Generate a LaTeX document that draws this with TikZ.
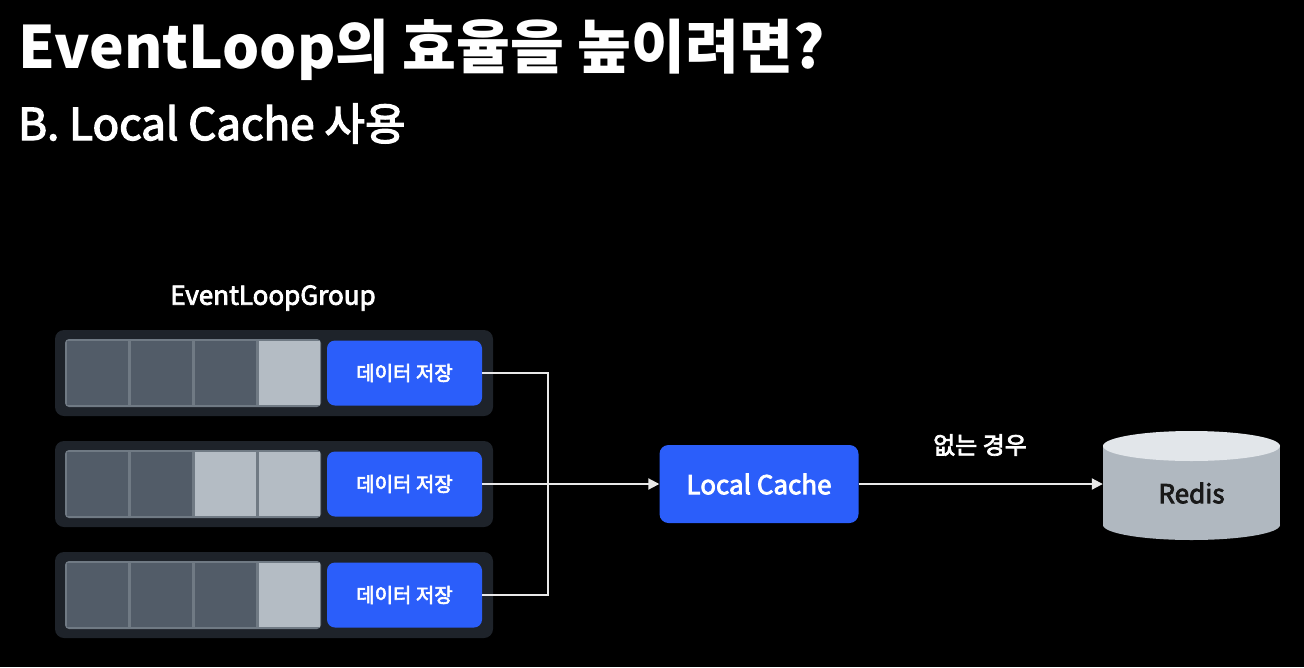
\documentclass[tikz,border=0pt]{standalone}
\usepackage{fontspec}
\setmainfont{Noto Sans CJK KR}
\newfontfamily\medfont{Noto Sans CJK KR}[FakeBold=3]
\usetikzlibrary{
    arrows.meta,
    calc,
    positioning
}
\definecolor{bluebox}{RGB}{43,94,250}
\definecolor{groupbg}{RGB}{30,35,42}
\definecolor{stripline}{RGB}{112,122,132}
\definecolor{celldark}{RGB}{82,92,104}
\definecolor{celllight}{RGB}{180,188,196}
\definecolor{dbside}{RGB}{176,184,192}
\definecolor{dbtop}{RGB}{226,230,234}
\definecolor{wire}{RGB}{232,232,232}
\tikzset{
  every node/.style={
    text=white,
    inner sep=0pt
  },
  grouprow/.style={
    fill=groupbg,
    rounded corners=9pt,
    minimum width=438pt,
    minimum height=86pt
  },
  savebox/.style={
    fill=bluebox,
    rounded corners=8pt,
    minimum width=155pt,
    minimum height=65pt,
    font=\fontsize{20}{22}\medfont
  },
  cachebox/.style={
    fill=bluebox,
    rounded corners=9pt,
    minimum width=199pt,
    minimum height=78pt,
    font=\fontsize{26}{28}\medfont
  },
  wireline/.style={
    draw=wire,
    line width=2pt
  },
  arrowline/.style={
    wireline,
    -{Triangle[length=11pt,width=11pt]}
  }
}

\begin{document}
\begin{tikzpicture}[x=1pt,y=-1pt]
\fill[black] (0,0) rectangle (1304,667);
\useasboundingbox (0,0) rectangle (1304,667);

% heading
\node[anchor=base west,font=\fontsize{58.5}{60}\selectfont\bfseries] (title) at (18,68) {EventLoop의 효율을 높이려면?};
\node[anchor=base west,font=\fontsize{44}{46}\medfont] (subtitle) at (18,140) {B. Local Cache 사용};

\node[font=\fontsize{26}{28}\medfont] (grouplbl) at (273,298) {EventLoopGroup};

% event loops
\foreach \r/\y/\ca/\cb/\cc/\cd in {1/373/celldark/celldark/celldark/celllight,
                                   2/484/celldark/celldark/celllight/celllight,
                                   3/595/celldark/celldark/celldark/celllight} {
  \node[grouprow] (g\r) at (274,\y) {};
  \fill[stripline,rounded corners=4pt] (65,\y-34) rectangle (321,\y+34);
  \foreach \c/\col in {0/\ca,1/\cb,2/\cc,3/\cd} {
    \fill[\col] (67+64*\c,\y-32) rectangle (65+64*\c+62.5,\y+32);
  }
  \node[savebox] (s\r) at (404.5,\y) {데이터 저장};
}

% cache and redis
\node[cachebox] (lc) at (759,484) {Local Cache};

\fill[dbside] (1191.5,525) ellipse [x radius=88.5, y radius=15];
\fill[dbside] (1103,446) rectangle (1280,525);
\fill[dbtop] (1191.5,446) ellipse [x radius=88.5, y radius=15];
\node[text=black!90,font=\fontsize{26}{28}\medfont,minimum width=177pt,minimum height=80pt] (redis) at (1191.5,493) {Redis};

\node[font=\fontsize{24}{26}\medfont] (miss) at (980,445) {없는 경우};

% wires
\coordinate (join) at (548,484);
\draw[wireline] (s1.east) -| (join);
\draw[wireline] (s3.east) -| (join);
\draw[arrowline] (s2.east) -- (lc.west);
\draw[arrowline] (lc.east) -- (redis.west |- lc.east);
\end{tikzpicture}
\end{document}
